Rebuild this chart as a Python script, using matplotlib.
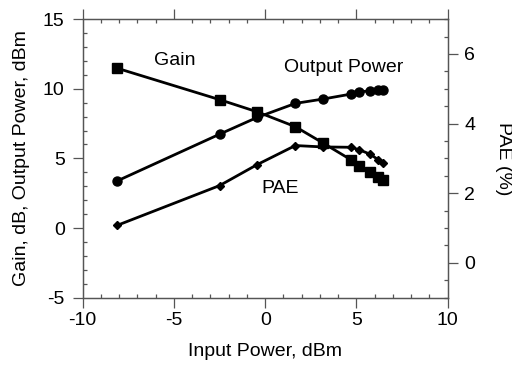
import matplotlib
matplotlib.use("Agg")
import matplotlib.pyplot as plt
from matplotlib.ticker import MultipleLocator

plt.rcParams['font.family'] = ['Liberation Sans', 'DejaVu Sans']
plt.rcParams['axes.unicode_minus'] = False

pin = [-8.1, -2.5, -0.45, 1.65, 3.15, 4.7, 5.15, 5.75, 6.2, 6.45]
gain = [11.47, 9.22, 8.35, 7.28, 6.12, 4.9, 4.47, 4.0, 3.64, 3.45]
pout = [3.39, 6.74, 7.94, 8.95, 9.26, 9.62, 9.76, 9.87, 9.91, 9.94]
pae = [1.08, 2.22, 2.82, 3.37, 3.33, 3.32, 3.25, 3.12, 2.96, 2.86]

fig = plt.figure(figsize=(5.12, 3.68), dpi=100)
ax = fig.add_axes([0.1615, 0.191, 0.713, 0.757])
ax2 = ax.twinx()

lw = 2.0
ax.plot(pin, gain, color='black', lw=lw, marker='s', ms=7)
ax.plot(pin, pout, color='black', lw=lw, marker='o', ms=6.5)
ax2.plot(pin, pae, color='black', lw=lw, marker='D', ms=4.5)

ax.set_xlim(-10, 10)
ax.set_ylim(-5, 15)
ax2.set_ylim(-1, 7)

ax.xaxis.set_major_locator(MultipleLocator(5))
ax.xaxis.set_minor_locator(MultipleLocator(1))
ax.yaxis.set_major_locator(MultipleLocator(5))
ax.yaxis.set_minor_locator(MultipleLocator(1))
ax2.yaxis.set_major_locator(MultipleLocator(2))
ax2.yaxis.set_minor_locator(MultipleLocator(0.5))

sc = '#555555'
for a in (ax, ax2):
    for s in a.spines.values():
        s.set_color(sc)
        s.set_linewidth(0.9)

ax.tick_params(which='major', direction='out', length=7, width=0.9, color=sc,
               labelsize=14, top=True, right=False, labelcolor='black')
ax.tick_params(axis='y', which='major', pad=6)
ax.tick_params(which='minor', direction='in', length=3, width=0.9, color=sc,
               top=True, right=False)
ax2.tick_params(which='major', direction='out', length=7, width=0.9, color=sc,
                labelsize=14, labelcolor='black', pad=5)
ax2.tick_params(which='minor', direction='in', length=3, width=0.9, color=sc)

ax.set_xlabel('Input Power, dBm', fontsize=14, labelpad=10)
ax.set_ylabel('Gain, dB, Output Power, dBm', fontsize=14, labelpad=9)
ax2.set_ylabel('PAE (%)', fontsize=14, rotation=270, labelpad=26)

ax.text(-4.94, 12.06, 'Gain', fontsize=14, ha='center', va='center')
ax.text(4.32, 11.5, 'Output Power', fontsize=14, ha='center', va='center')
ax.text(0.81, 2.87, 'PAE', fontsize=14, ha='center', va='center')

fig.savefig('out.png', dpi=100)
